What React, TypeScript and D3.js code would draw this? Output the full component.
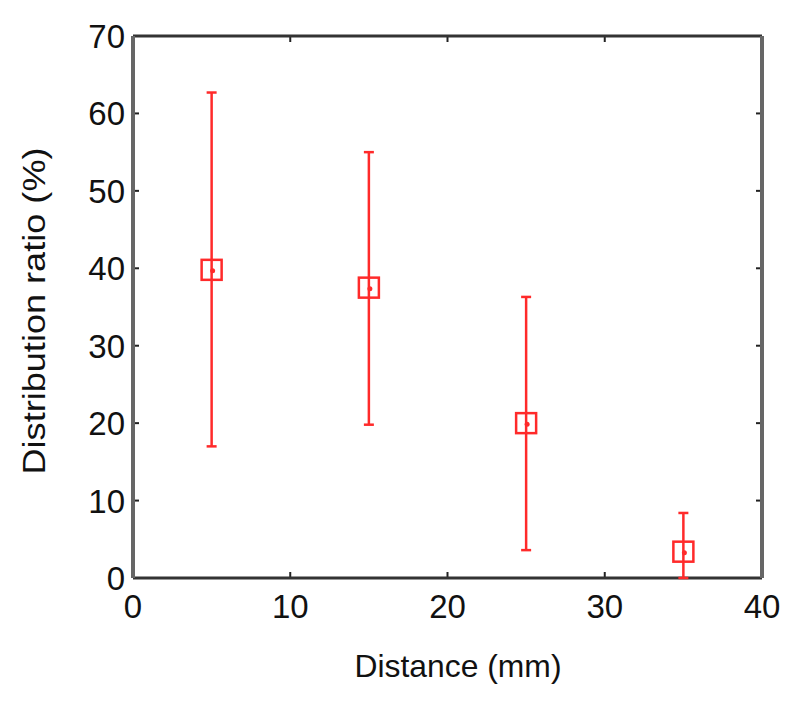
import React, { useEffect, useRef } from "react";
import * as d3 from "d3";

const distances = [5, 15, 25, 35];
const ratios = [39.8, 37.5, 20.0, 3.4];
const upper = [62.7, 55.0, 36.3, 8.4];
const lower = [17.0, 19.8, 3.6, 0];
const xTicks = [0, 10, 20, 30, 40];
const yTicks = [0, 10, 20, 30, 40, 50, 60, 70];

const App = () => {
  const svgRef = useRef<SVGSVGElement>(null);

  useEffect(() => {
    const svg = d3.select(svgRef.current);
    svg.selectAll("*").remove();

    const left = 133, right = 762, top = 36, bottom = 578;
    const x = d3.scaleLinear().domain([0, 40]).range([left, right]);
    const y = d3.scaleLinear().domain([0, 70]).range([bottom, top]);
    const font = "Liberation Sans, Arial, sans-serif";
    const red = "#ff2a2a";

    svg.append("rect").attr("width", 800).attr("height", 705).attr("fill", "white");

    // ticks (inward, all sides)
    const g = svg.append("g").attr("stroke", "#222").attr("stroke-width", 2);
    xTicks.forEach(t => {
      g.append("line").attr("x1", x(t)).attr("x2", x(t)).attr("y1", bottom).attr("y2", bottom - 6);
      g.append("line").attr("x1", x(t)).attr("x2", x(t)).attr("y1", top).attr("y2", top + 6);
    });
    yTicks.forEach(t => {
      g.append("line").attr("y1", y(t)).attr("y2", y(t)).attr("x1", left).attr("x2", left + 6);
      g.append("line").attr("y1", y(t)).attr("y2", y(t)).attr("x1", right).attr("x2", right - 6);
    });

    // box
    svg.append("line").attr("x1", left).attr("x2", right).attr("y1", top).attr("y2", top)
      .attr("stroke", "#333").attr("stroke-width", 3);
    svg.append("line").attr("x1", left).attr("x2", right).attr("y1", bottom).attr("y2", bottom)
      .attr("stroke", "#333").attr("stroke-width", 3);
    svg.append("line").attr("x1", left).attr("x2", left).attr("y1", top).attr("y2", bottom)
      .attr("stroke", "#666").attr("stroke-width", 4);
    svg.append("line").attr("x1", right).attr("x2", right).attr("y1", top).attr("y2", bottom)
      .attr("stroke", "#666").attr("stroke-width", 4);

    // tick labels
    svg.append("g").selectAll("text").data(xTicks).enter().append("text")
      .attr("x", d => x(d)).attr("y", 618)
      .attr("text-anchor", "middle").attr("font-family", font).attr("font-size", 33)
      .attr("fill", "#111").text(d => d);
    svg.append("g").selectAll("text").data(yTicks).enter().append("text")
      .attr("x", left - 8).attr("y", d => y(d) + 12)
      .attr("text-anchor", "end").attr("font-family", font).attr("font-size", 33)
      .attr("fill", "#111").text(d => d);

    // axis titles
    svg.append("text").attr("x", 458).attr("y", 677)
      .attr("text-anchor", "middle").attr("font-family", font).attr("font-size", 32)
      .attr("textLength", 207).attr("lengthAdjust", "spacingAndGlyphs")
      .attr("fill", "#111").text("Distance (mm)");
    svg.append("text").attr("transform", `translate(45,311) rotate(-90)`)
      .attr("text-anchor", "middle").attr("font-family", font).attr("font-size", 32)
      .attr("textLength", 327).attr("lengthAdjust", "spacingAndGlyphs")
      .attr("fill", "#111").text("Distribution ratio (%)");

    // error bars + markers
    const pts = svg.append("g");
    distances.forEach((d, i) => {
      const cx = x(d);
      pts.append("line").attr("x1", cx).attr("x2", cx).attr("y1", y(upper[i])).attr("y2", y(lower[i]))
        .attr("stroke", red).attr("stroke-width", 2.5);
      [upper[i], lower[i]].forEach(v => {
        pts.append("line").attr("x1", cx - 5).attr("x2", cx + 5).attr("y1", y(v)).attr("y2", y(v))
          .attr("stroke", red).attr("stroke-width", 2.5);
      });
      pts.append("rect").attr("x", cx - 10).attr("y", y(ratios[i]) - 10).attr("width", 20).attr("height", 20)
        .attr("fill", "none").attr("stroke", red).attr("stroke-width", 2.5);
      pts.append("circle").attr("cx", cx + 1).attr("cy", y(ratios[i]) + 1).attr("r", 2.5).attr("fill", red);
    });
  }, []);

  return (
    <div style={{ margin: -8 }}>
      <svg ref={svgRef} width={800} height={705} style={{ display: "block" }} />
    </div>
  );
};

export default App;
